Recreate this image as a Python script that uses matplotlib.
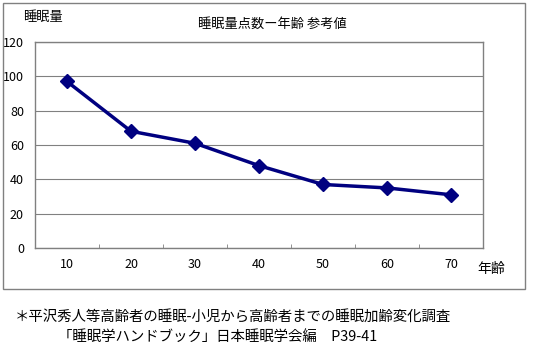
import matplotlib
matplotlib.use("Agg")
import matplotlib.pyplot as plt
import numpy as np
from matplotlib.patches import Rectangle

plt.rcParams["font.family"] = ["Noto Sans CJK JP", "DejaVu Sans"]

# data
ages = ["10", "20", "30", "40", "50", "60", "70"]
sleep_score = [97, 68, 61, 48, 37, 35, 31]
y_ticks = [0, 20, 40, 60, 80, 100, 120]

title = "睡眠量点数ー年齢 参考値"
y_label = "睡眠量"
x_label = "年齢"
note_1 = "＊平沢秀人等高齢者の睡眠-小児から高齢者までの睡眠加齢変化調査"
note_2 = "「睡眠学ハンドブック」日本睡眠学会編　P39-41"

W, H = 535, 360
fig = plt.figure(figsize=(W / 100, H / 100), dpi=100)


def fx(px):
    return px / W


def fy(py):
    return 1 - py / H


# outer chart frame
fig.patches.append(Rectangle((fx(3), fy(289)), fx(525) - fx(3), fy(3) - fy(289),
                             transform=fig.transFigure, fill=False,
                             edgecolor="#808080", lw=1.0))

ax = fig.add_axes([fx(35), fy(248), fx(483) - fx(35), fy(42) - fy(248)])
x = np.arange(len(ages))
ax.plot(x, sleep_score, color="#000080", lw=2.5, marker="D", ms=7,
        markeredgecolor="#000080", zorder=3)

ax.set_xlim(-0.5, len(ages) - 0.5)
ax.set_ylim(0, 120)
ax.set_yticks(y_ticks)
ax.set_yticklabels([str(v) for v in y_ticks], fontsize=9)
ax.set_xticks(x)
ax.set_xticklabels(ages, fontsize=9)
ax.set_xticks(np.arange(0.5, len(ages) - 0.5), minor=True)
ax.tick_params(axis="x", which="major", length=0, pad=7)
ax.tick_params(axis="x", which="minor", direction="in", length=3, color="#808080")
ax.tick_params(axis="y", length=0, pad=8)
ax.yaxis.grid(True, color="#808080", lw=0.8)
ax.set_axisbelow(True)
for s in ax.spines.values():
    s.set_color("#808080")
    s.set_linewidth(1.0)

fig.text(fx(272), fy(24), title, ha="center", va="center", fontsize=9.5)
fig.text(fx(43), fy(18), y_label, ha="center", va="center", fontsize=9.5)
fig.text(fx(491), fy(269), x_label, ha="center", va="center", fontsize=10)
fig.text(fx(15), fy(318), note_1, ha="left", va="center", fontsize=10.4)
fig.text(fx(58), fy(337), note_2, ha="left", va="center", fontsize=10.4)

fig.savefig("out.png", dpi=100)
